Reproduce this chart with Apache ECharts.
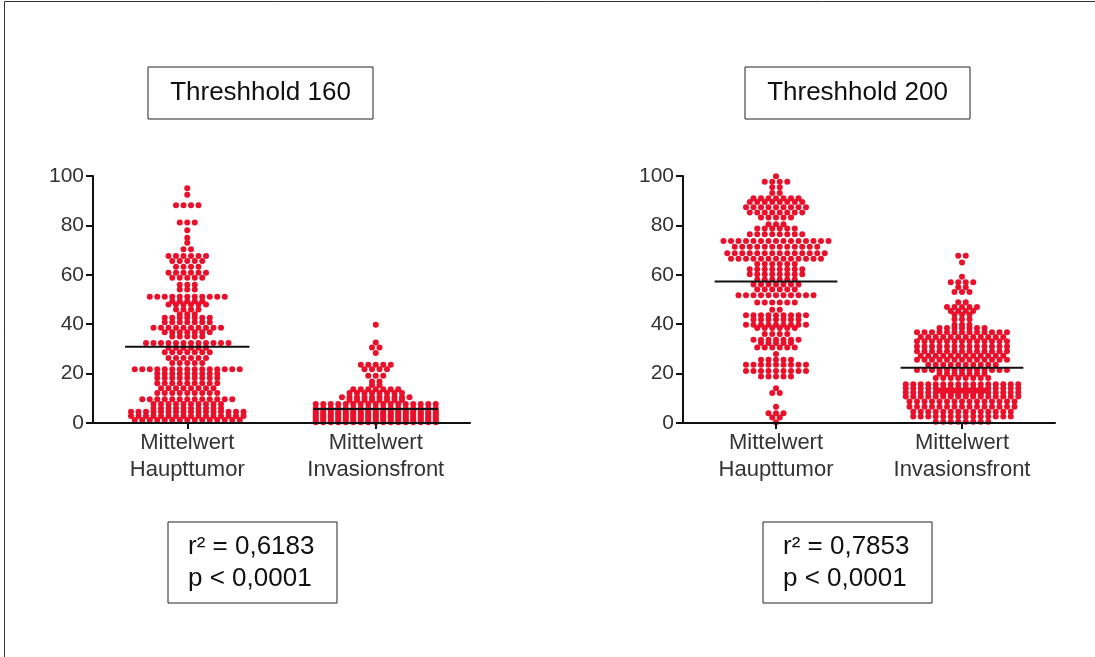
<!DOCTYPE html>
<html>
<head>
<meta charset="utf-8">
<script src="https://cdn.jsdelivr.net/npm/echarts@6/dist/echarts.min.js"></script>
<style>html,body{margin:0;padding:0;background:#fff;}#c{width:1095px;height:657px;}</style>
</head>
<body>
<div id="c"></div>
<script>
// ---- data (rows of the dot plot: [value, number of dots]) ----
const categories = ['Mittelwert\nHaupttumor', 'Mittelwert\nInvasionsfront'];
const panelTitles = ['Threshhold 160', 'Threshhold 200'];
const statsTexts = ['r² = 0,6183\np < 0,0001', 'r² = 0,7853\np < 0,0001'];
const yMin = 0, yMax = 100, yInterval = 20;

const haupt160Rows = [[95,1],[92.4,1],[88.2,4],[81.2,3],[78,1],[75,1],[73,1],[70.3,2],[67.6,6],[65.6,5],[63.3,4],[60.8,6],[58.8,5],[56,3],[54,3],[51.1,11],[49.3,5],[48,6],[46,4],[44,3],[42.6,7],[40.8,7],[38.6,10],[36.7,7],[35,5],[32.4,12],[30.5,6],[28.6,7],[26.3,6],[24.3,5],[21.8,15],[19.9,9],[18.2,9],[16.1,9],[14.1,8],[12.1,9],[9.6,13],[7.7,10],[6,10],[4.6,16],[2.8,16],[1.2,15]];
const inv160Rows = [[39.8,1],[32.6,1],[30.6,2],[28.3,1],[23.6,5],[21.8,4],[19.1,3],[16.8,2],[15.4,2],[13.7,7],[12.1,8],[10.4,10],[9.3,8],[7.7,17],[6.0,17],[5.0,17],[4.2,17],[3.4,17],[2.6,17],[1.8,17],[1.0,17],[0.3,17]];
const haupt200Rows = [[99.9,1],[97.7,4],[95.4,2],[93.1,2],[91,7],[89.5,8],[87.3,9],[85.2,8],[83.2,5],[80.5,3],[78.7,6],[76.4,8],[73.7,15],[71.4,12],[68.7,14],[66.5,13],[64.4,6],[62.2,8],[60.2,8],[58.1,6],[56.1,7],[54,6],[51.7,11],[48.8,6],[45.9,2],[43.6,9],[41.9,7],[39.8,9],[38.5,6],[36,4],[33.7,7],[32.4,5],[30.6,6],[27.9,1],[25.6,5],[23.6,9],[21.1,9],[18.8,5],[14.1,1],[12.1,2],[6.6,1],[3.9,3],[2.2,2],[0.3,1]];
const inv200Rows = [[67.7,2],[65,1],[59.2,1],[57,4],[55,2],[53,3],[48.9,2],[47,5],[45.3,4],[43.9,3],[42,3],[39.8,3],[38.5,7],[36.7,13],[34.8,12],[33.1,13],[31,13],[29,13],[27.2,12],[25.6,13],[23.6,10],[21.5,13],[19.9,7],[18.2,8],[15.7,16],[14.1,16],[13.2,7],[12.3,16],[11.5,6],[10.7,16],[8.7,15],[6.6,15],[4.6,14],[2.6,14],[0.5,8]];
const means160 = [30.9, 5.7];
const means200 = [57.3, 22.4];

// ---- layout / style ----
const FONT = "'Liberation Sans', Arial, Helvetica, sans-serif";
const DOT = '#e8102a';
const grids = [
  {left: 93, top: 176, width: 377, height: 247},
  {left: 683, top: 176, width: 372, height: 247}
];
const DOT_STEP_PX = 7.5;
const MEAN_HALF = 0.33;

function swarm(rows, center, unitPx) {
  const step = DOT_STEP_PX / unitPx;
  const pts = [];
  rows.forEach(function (r) {
    const v = r[0], n = r[1];
    for (let i = 0; i < n; i++) pts.push([center + (i - (n - 1) / 2) * step, v]);
  });
  return pts;
}

const xAxes = [], yAxes = [], series = [];
const panels = [[haupt160Rows, inv160Rows, means160], [haupt200Rows, inv200Rows, means200]];
panels.forEach(function (p, gi) {
  xAxes.push({
    type: 'category', gridIndex: gi, data: categories, boundaryGap: true,
    axisLine: {show: true, lineStyle: {color: '#111', width: 2}},
    axisTick: {show: true, alignWithLabel: true, length: 6, lineStyle: {color: '#111', width: 2}},
    axisLabel: {color: '#333', fontSize: 22, fontFamily: FONT, lineHeight: 27, margin: 6},
    splitLine: {show: false}, z: 3
  });
  xAxes.push({type: 'value', gridIndex: gi, min: 0, max: 2, show: false});
  yAxes.push({
    type: 'value', gridIndex: gi, min: yMin, max: yMax, interval: yInterval,
    axisLine: {show: true, lineStyle: {color: '#111', width: 2}},
    axisTick: {show: true, length: 7, lineStyle: {color: '#111', width: 2}},
    axisLabel: {color: '#333', fontSize: 21, fontFamily: FONT, margin: 9},
    splitLine: {show: false}
  });
  const unitPx = grids[gi].width / 2;
  [p[0], p[1]].forEach(function (rows, ci) {
    series.push({
      type: 'scatter', xAxisIndex: gi * 2 + 1, yAxisIndex: gi,
      data: swarm(rows, ci + 0.5, unitPx), symbol: 'circle', symbolSize: 6,
      itemStyle: {color: DOT, opacity: 1}, z: 2, silent: true
    });
    const m = p[2][ci];
    series.push({
      type: 'line', xAxisIndex: gi * 2 + 1, yAxisIndex: gi,
      data: [[ci + 0.5 - MEAN_HALF, m], [ci + 0.5 + MEAN_HALF, m]],
      symbol: 'none', lineStyle: {color: '#111', width: 2}, z: 4, silent: true
    });
  });
});

function box(x, y, w, h, text, align) {
  return {
    type: 'group', children: [
      {type: 'rect', shape: {x: x, y: y, width: w, height: h},
       style: {fill: '#fff', stroke: '#222', lineWidth: 1}},
      {type: 'text', x: align === 'center' ? x + w / 2 : x + 20, y: y + h / 2,
       style: {text: text, fill: '#111', font: '26px ' + FONT, lineHeight: 32,
               textAlign: align, textVerticalAlign: 'middle'}}
    ]
  };
}

const chart = echarts.init(document.getElementById('c'));
chart.setOption({
  animation: false,
  backgroundColor: '#fff',
  grid: grids,
  xAxis: xAxes,
  yAxis: yAxes,
  series: series,
  graphic: [
    {type: 'line', shape: {x1: 4.5, y1: 1.5, x2: 1095, y2: 1.5}, style: {stroke: '#333', lineWidth: 1}},
    {type: 'line', shape: {x1: 4.5, y1: 1.5, x2: 4.5, y2: 657}, style: {stroke: '#333', lineWidth: 1}},
    box(148, 67, 225, 52, panelTitles[0], 'center'),
    box(745, 67, 225, 52, panelTitles[1], 'center'),
    box(168, 522, 169, 81, statsTexts[0], 'left'),
    box(763, 522, 169, 81, statsTexts[1], 'left')
  ]
});
</script>
</body>
</html>
